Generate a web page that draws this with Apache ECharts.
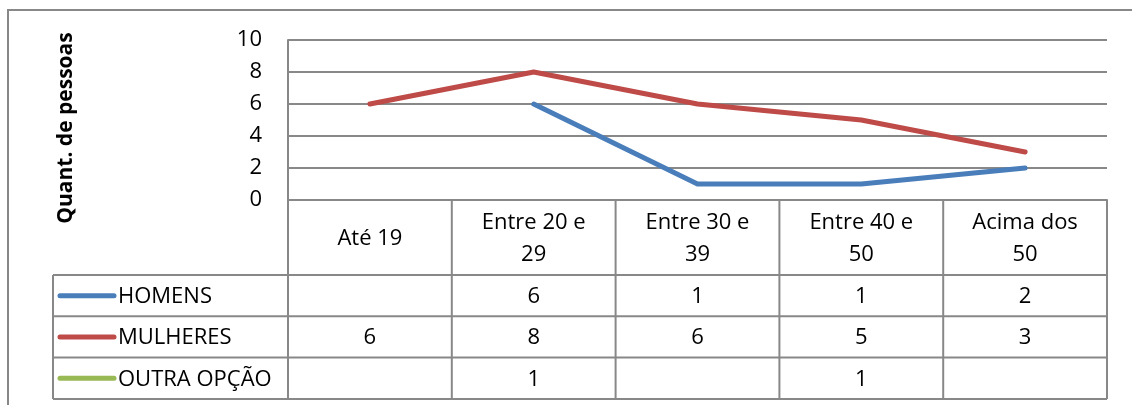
<!DOCTYPE html>
<html>
<head>
<meta charset="utf-8">
<script src="https://cdn.jsdelivr.net/npm/echarts@6/dist/echarts.min.js"></script>
<style>
  html, body { margin: 0; padding: 0; background: #fff; }
  #chart { width: 1132px; height: 405px; }
</style>
</head>
<body>
<div id="chart"></div>
<script>
// Age groups and counts per group
const categories = ['Até 19', 'Entre 20 e\n29', 'Entre 30 e\n39', 'Entre 40 e\n50', 'Acima dos\n50'];
const homens = [null, 6, 1, 1, 2];
const mulheres = [6, 8, 6, 5, 3];
const outraOpcao = [null, 1, null, 1, null];
const seriesNames = ['HOMENS', 'MULHERES', 'OUTRA OPÇÃO'];
const seriesColors = ['#4a7ebb', '#be4b48', '#98b954'];
const yTitle = 'Quant. de pessoas';
const yMin = 0, yMax = 10, yStep = 2;

const FONT = '"Open Sans", "Noto Sans", sans-serif';
const GRID_GRAY = '#888888';
const allSeries = [homens, mulheres, outraOpcao];

const chart = echarts.init(document.getElementById('chart'), null, { renderer: 'canvas' });

chart.setOption({
  animation: false,
  backgroundColor: '#fff',
  grid: { left: 288, right: 25, top: 40, bottom: 205, containLabel: false },
  xAxis: {
    type: 'category',
    data: categories,
    boundaryGap: true,
    axisLine: { show: true, lineStyle: { color: GRID_GRAY, width: 2 } },
    axisTick: { show: false },
    axisLabel: { show: false },
    splitLine: { show: false }
  },
  yAxis: {
    type: 'value',
    min: yMin, max: yMax, interval: yStep,
    axisLine: { show: true, lineStyle: { color: GRID_GRAY, width: 2 } },
    axisTick: { show: false },
    axisLabel: { margin: 26, fontFamily: FONT, fontSize: 22, color: '#000' },
    splitLine: { show: true, lineStyle: { color: GRID_GRAY, width: 2 } }
  },
  series: allSeries.map((data, i) => ({
    name: seriesNames[i],
    type: 'line',
    data: data,
    connectNulls: false,
    showSymbol: false,
    symbol: 'none',
    lineStyle: { color: seriesColors[i], width: 5, cap: 'round', join: 'round' },
    itemStyle: { color: seriesColors[i] }
  }))
});

// Data table under the plot, aligned to the category axis
function buildTable() {
  const grid = chart.getModel().getComponent('grid').coordinateSystem.getRect();
  const left = grid.x, right = grid.x + grid.width, axisY = grid.y + grid.height;
  const centers = categories.map((c, i) => chart.convertToPixel({ xAxisIndex: 0 }, i));
  const step = grid.width / categories.length;
  const headerH = 75, rowH = 41.3;
  const tableLeft = 53;
  const rowTops = [axisY + headerH];
  for (let i = 1; i <= seriesNames.length; i++) rowTops.push(axisY + headerH + rowH * i);
  const bottom = rowTops[rowTops.length - 1];
  const line = (x1, y1, x2, y2, w) => ({
    type: 'line', silent: true,
    shape: { x1, y1, x2, y2 },
    style: { stroke: GRID_GRAY, lineWidth: w || 2 }
  });
  const els = [];

  // Outer chart frame
  els.push({ type: 'polyline', silent: true,
    shape: { points: [[8, 405], [8, 10], [1132, 10]] },
    style: { stroke: GRID_GRAY, lineWidth: 2, fill: null } });

  // Horizontal rules
  rowTops.forEach(y => els.push(line(tableLeft, y, right, y)));
  // Vertical rules
  els.push(line(tableLeft, rowTops[0], tableLeft, bottom));
  for (let i = 0; i <= categories.length; i++) {
    const x = left + step * i;
    els.push(line(x, axisY, x, bottom));
  }

  // Header row: category names
  categories.forEach((c, i) => {
    els.push({ type: 'text', silent: true,
      style: { text: c, x: centers[i], y: axisY + headerH / 2 + 1, align: 'center', verticalAlign: 'middle',
        font: '22px ' + FONT, fill: '#000', lineHeight: 32 } });
  });

  // Series rows: legend key, name and values
  allSeries.forEach((data, r) => {
    const cy = (rowTops[r] + rowTops[r + 1]) / 2;
    els.push({ type: 'line', silent: true,
      shape: { x1: 60, y1: cy, x2: 114, y2: cy },
      style: { stroke: seriesColors[r], lineWidth: 5, lineCap: 'round' } });
    els.push({ type: 'text', silent: true,
      style: { text: seriesNames[r], x: 118, y: cy + 1, align: 'left', verticalAlign: 'middle',
        font: '22px ' + FONT, fill: '#000' } });
    data.forEach((v, i) => {
      if (v === null) return;
      els.push({ type: 'text', silent: true,
        style: { text: String(v), x: centers[i], y: cy + 1, align: 'center', verticalAlign: 'middle',
          font: '22px ' + FONT, fill: '#000' } });
    });
  });

  // Vertical axis title
  els.push({ type: 'text', silent: true, x: 66, y: 128, rotation: Math.PI / 2,
    style: { text: yTitle, x: 0, y: 0, align: 'center', verticalAlign: 'middle',
      font: 'bold 21px ' + FONT, fill: '#000' } });

  chart.setOption({ graphic: { elements: els } });
}
buildTable();
</script>
</body>
</html>
